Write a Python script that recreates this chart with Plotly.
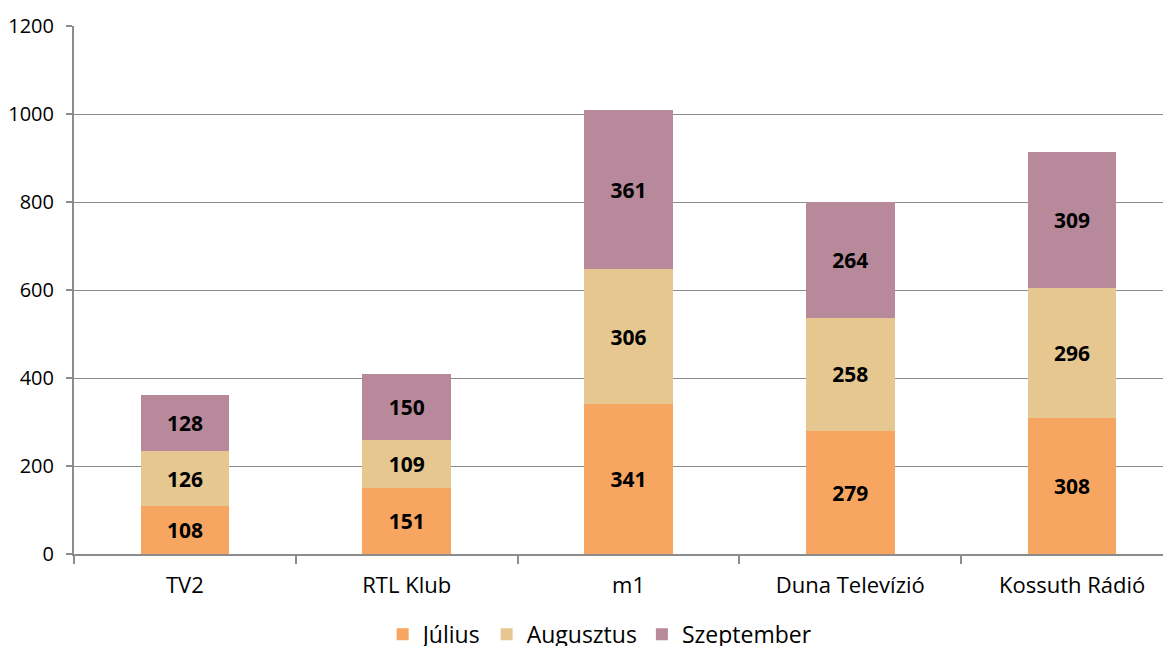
import plotly.graph_objects as go

categories = ["TV2", "RTL Klub", "m1", "Duna Televízió", "Kossuth Rádió"]
julius = [108, 151, 341, 279, 308]
augusztus = [126, 109, 306, 258, 296]
szeptember = [128, 150, 361, 264, 309]
series_names = ["Július", "Augusztus", "Szeptember"]
colors = ["#F6A660", "#E5C78F", "#B8889B"]

fig = go.Figure()
for name, vals, col in zip(series_names, [julius, augusztus, szeptember], colors):
    fig.add_trace(go.Bar(
        x=categories, y=vals, name=name,
        marker=dict(color=col, line=dict(width=0)),
        text=[str(v) for v in vals], textposition="inside", insidetextanchor="middle",
        textfont=dict(family="Open Sans", size=21, color="black", weight="bold"),
        constraintext="none",
    ))

# page body has an 8px margin; the plot area runs slightly past the window's right edge as in the reference
fig.update_layout(
    barmode="stack", bargap=0.6,
    width=1175, height=638,
    margin=dict(l=66, r=0, t=18, b=92, autoexpand=False),
    paper_bgcolor="white", plot_bgcolor="white",
    font=dict(family="Open Sans", size=20, color="black"),
    showlegend=True,
    legend=dict(orientation="h", x=0.474, xanchor="center", y=-0.152, yanchor="middle",
                font=dict(size=23), itemsizing="constant", traceorder="normal", itemwidth=30),
    uniformtext=dict(mode=False),
)
fig.update_xaxes(
    showline=True, linecolor="#8c8c8c", linewidth=2,
    ticks="outside", tickson="boundaries", ticklen=8, tickcolor="#8c8c8c", tickwidth=1.5,
    tickfont=dict(size=22), ticklabelstandoff=11, showgrid=False, automargin=False,
)
fig.update_yaxes(
    range=[0, 1200], dtick=200, showline=True, linecolor="#8c8c8c", linewidth=2,
    ticks="outside", ticklen=6, tickcolor="#8c8c8c", tickwidth=1.5,
    showgrid=True, gridcolor="#8c8c8c", gridwidth=1,
    tickfont=dict(size=20), ticklabelstandoff=8, zeroline=False, automargin=False,
)
fig.write_html("out.html")
